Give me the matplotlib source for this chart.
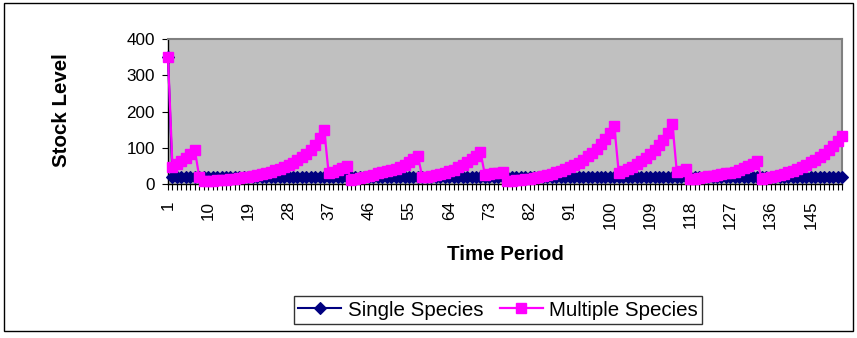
import matplotlib
matplotlib.use('Agg')
import matplotlib.pyplot as plt
from matplotlib.patches import Rectangle
from matplotlib.ticker import FixedLocator

plt.rcParams['font.family'] = ['Liberation Sans', 'DejaVu Sans']

# ---------------- data ----------------
periods = list(range(1, 153))

single_species = [
    350, 20, 20, 20, 20, 20, 20, 20, 20, 20, 20, 20, 20, 20, 20, 20, 20, 20, 20, 20,
    20, 20, 20, 20, 20, 20, 20, 20, 20, 20, 20, 20, 20, 20, 20, 20, 20, 20, 20, 20,
    20, 20, 20, 20, 20, 20, 20, 20, 20, 20, 20, 20, 20, 20, 20, 20, 20, 20, 20, 20,
    20, 20, 20, 20, 20, 20, 20, 20, 20, 20, 20, 20, 20, 20, 20, 20, 20, 20, 20, 20,
    20, 20, 20, 20, 20, 20, 20, 20, 20, 20, 20, 20, 20, 20, 20, 20, 20, 20, 20, 20,
    20, 20, 20, 20, 20, 20, 20, 20, 20, 20, 20, 20, 20, 20, 20, 20, 20, 20, 20, 20,
    20, 20, 20, 20, 20, 20, 20, 20, 20, 20, 20, 20, 20, 20, 20, 20, 20, 20, 20, 20,
    20, 20, 20, 20, 20, 20, 20, 20, 20, 20, 20, 20,
]

multiple_species = [
    350, 48, 55, 63, 72, 82, 94, 20,
    7, 8, 9, 10, 11, 12, 13, 15, 16, 18, 20, 22, 25, 28, 31, 34, 38, 42, 47, 53,
    59, 66, 74, 83, 93, 108, 127, 149,
    29, 34, 39, 44, 50,
    12, 14, 17, 20, 23, 26, 29, 32, 35, 38, 42, 47, 53, 60, 68, 76,
    18, 20, 22, 25, 28, 31, 35, 40, 46, 53, 61, 69, 78, 89,
    25, 27, 29, 31, 33,
    7, 8, 10, 11, 13, 15, 17, 19, 22, 25, 28, 32, 36, 41, 46, 52, 59, 67, 76, 86,
    97, 110, 124, 140, 159,
    29, 35, 41, 48, 55, 63, 72, 82, 94, 107, 122, 142, 166,
    33, 37, 41,
    13, 15, 17, 19, 21, 23, 25, 27, 29, 31, 34, 38, 43, 49, 56, 63,
    14, 16, 19, 22, 25, 28, 32, 36, 41, 47, 53, 60, 67, 75, 84, 95, 106, 118, 132,
]

x_tick_labels = ['1', '10', '19', '28', '37', '46', '55', '64', '73', '82',
                 '91', '100', '109', '118', '127', '136', '145']
y_ticks = [0, 100, 200, 300, 400]

# ---------------- figure ----------------
W, H = 857, 338
fig = plt.figure(figsize=(W / 100, H / 100), dpi=100)
fig.patch.set_facecolor('white')

L, R, T, B = 168, 842, 39, 184
ax = fig.add_axes([L / W, 1 - B / H, (R - L) / W, (B - T) / H])
ax.set_facecolor('#C0C0C0')

ax.plot(periods, single_species, color='#000080', marker='D', markersize=6,
        markeredgewidth=0.8, linewidth=1.5, label='Single Species',
        clip_on=False, zorder=3)
ax.plot(periods, multiple_species, color='#FF00FF', marker='s', markersize=7,
        markeredgewidth=1, linewidth=1.6, label='Multiple Species',
        clip_on=False, zorder=4)

ax.set_xlim(periods[0], periods[-1])
ax.set_ylim(y_ticks[0], y_ticks[-1])

ax.set_yticks(y_ticks)
ax.set_yticklabels([str(v) for v in y_ticks])
ax.set_xticks([int(s) for s in x_tick_labels])
ax.set_xticklabels(x_tick_labels, rotation=90)
ax.xaxis.set_minor_locator(FixedLocator(periods))

ax.tick_params(axis='x', which='both', direction='out', length=4, width=0.8,
               color='black', pad=8, labelsize=12.3)
ax.tick_params(axis='y', which='major', direction='out', length=4.3, width=0.8,
               color='black', pad=5, labelsize=12.3)

for side in ['left', 'bottom']:
    ax.spines[side].set_color('black')
    ax.spines[side].set_linewidth(1)
for side in ['top', 'right']:
    ax.spines[side].set_color('#808080')
    ax.spines[side].set_linewidth(1.5)

fig.text(62 / W, 1 - 110 / H, 'Stock Level', rotation=90, fontsize=14.8,
         fontweight='bold', ha='center', va='center')
fig.text(505 / W, 1 - 255 / H, 'Time Period', fontsize=14.8,
         fontweight='bold', ha='center', va='center')

leg = fig.legend(loc='center', bbox_to_anchor=(498 / W, 1 - 310 / H), ncol=2,
                 fontsize=14.8, frameon=True, fancybox=False, borderpad=0.2,
                 handlelength=2.1, handletextpad=0.3, columnspacing=0.8,
                 borderaxespad=0)
leg.get_frame().set_edgecolor('black')
leg.get_frame().set_linewidth(1)

fig.patches.append(Rectangle((4 / W, 1 - 331 / H), 849 / W, 328 / H,
                             transform=fig.transFigure, fill=False,
                             edgecolor='black', linewidth=1))

fig.savefig('out.png', dpi=100)
